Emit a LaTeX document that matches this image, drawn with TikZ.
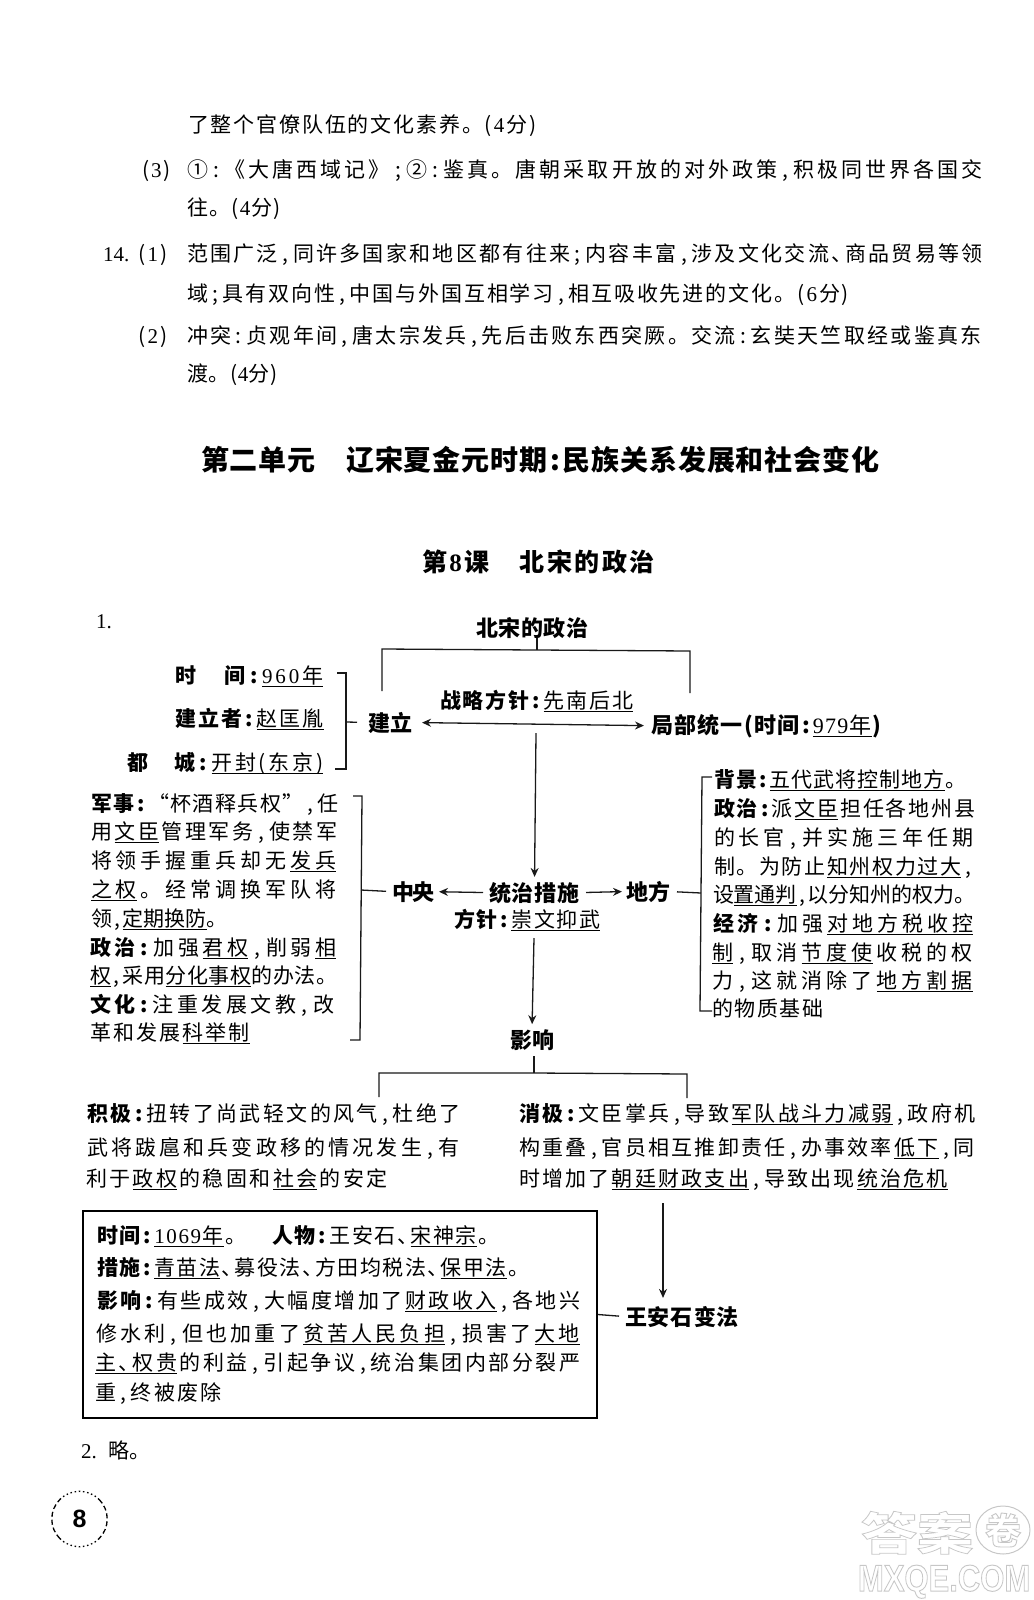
\documentclass[tikz,border=0pt]{standalone}
\usepackage{fontspec}
\usetikzlibrary{arrows.meta}
\setmainfont{Noto Sans CJK SC}
\newfontfamily\cjkf{Noto Sans CJK SC}
\newfontfamily\ser{Liberation Serif}
\newfontfamily\wmlat{Liberation Sans}
\newdimen\cjkX
\newdimen\cjkY
\newbox\jlA
\newbox\jlB
\newbox\ubx
\def\spcEnd{\spcEnd}
\def\hbA#1{\hbox to .5em{\hss#1\hss}\kern\cjkX}
\def\hbB#1{\hbox to .55em{#1\hss}\kern\cjkX}
\def\spcB#1{\ifx#1\ser\ser\else\ifx#1\cjkf\cjkf\else\ifx#1,\hbA{,}\else\ifx#1;\hbA{;}\else\ifx#1:\hbA{:}\else\ifx#1、\hbB{、}\else#1\kern\cjkX\fi\fi\fi\fi\fi\fi}
\def\spcA#1{\ifx#1\spcEnd\else\spcB{#1}\expandafter\spcA\fi}
\def\tn#1{{\spcA#1\spcEnd}}
\def\bd#1{{\bfseries\spcA#1\spcEnd}}
\def\ul#1{{\setbox\ubx\hbox{\spcA#1\spcEnd}\rlap{\smash{\lower4.2pt\hbox{\vrule width\dimexpr\wd\ubx-\cjkX\relax height1.1pt depth0pt}}}\box\ubx}}
\def\jl#1#2{\setbox\jlA\hbox{\cjkX=0pt #2}\setbox\jlB\hbox{\cjkX=1pt #2}\cjkY=\dimexpr\dimexpr#1-\wd\jlA\relax*65536/\numexpr\wd\jlB-\wd\jlA\relax\relax\hbox{\cjkX=\cjkY #2}}
\newcommand\LN[5]{\node[txt] (#1) at (#2,#3) {\jl{\dimexpr #4pt-#2pt\relax}{#5}};}
\tikzset{
 txt/.style={anchor=base west,inner sep=0pt,outer sep=0pt,text=black,font=\fontsize{21}{21}\selectfont},
 lab/.style={txt,font=\fontsize{22}{22}\selectfont},
 conn/.style={line width=1.3pt,draw=black!90},
 arr/.style={conn,-{Stealth[length=9pt,width=8pt,inset=3pt]}},
 darr/.style={conn,{Stealth[length=9pt,width=8pt,inset=3pt]}-{Stealth[length=9pt,width=8pt,inset=3pt]}},
 framebox/.style={draw=black,line width=1.5pt,inner sep=0pt,minimum width=514pt,minimum height=207pt},
 wmline/.style={draw=black!22,line width=1pt}
}
\begin{document}
\begin{tikzpicture}[x=1pt,y=-1pt]
\useasboundingbox (0,0) rectangle (1033,1600);
% upper text
\LN{a1}{188}{132}{538}{\tn{了整个官僚队伍的文化素养。(\ser 4\cjkf 分)}}
\LN{a2n}{142}{177}{173}{\tn{(\ser 3\cjkf )}}
\LN{a2}{187}{177}{986}{\tn{①:《大唐西域记》;②:鉴真。唐朝采取开放的对外政策,积极同世界各国交}}
\LN{a3}{187}{215}{282}{\tn{往。(\ser 4\cjkf 分)}}
\node[txt] (a4m) at (103,261) {\ser 14.};
\LN{a4n}{138}{261}{170}{\tn{(\ser 1\cjkf )}}
\LN{a4}{187}{261}{985}{\tn{范围广泛,同许多国家和地区都有往来;内容丰富,涉及文化交流、商品贸易等领}}
\LN{a5}{187}{301}{851}{\tn{域;具有双向性,中国与外国互相学习,相互吸收先进的文化。(\ser 6\cjkf 分)}}
\LN{a6n}{138}{343}{170}{\tn{(\ser 2\cjkf )}}
\LN{a6}{187}{343}{984}{\tn{冲突:贞观年间,唐太宗发兵,先后击败东西突厥。交流:玄奘天竺取经或鉴真东}}
\LN{a7}{187}{381}{278}{\tn{渡。(\ser 4\cjkf 分)}}
% headings
\node[txt,font=\fontsize{28}{28}\selectfont] (h1) at (201,470) {\jl{\dimexpr 679pt\relax}{\bd{第二单元}\hskip 30pt\bd{辽宋夏金元时期:民族关系发展和社会变化}}};
\node[txt,font=\fontsize{25}{25}\selectfont] (h2) at (422,571) {\jl{\dimexpr 235pt\relax}{\bd{第\ser 8\cjkf 课}\hskip 28pt\bd{北宋的政治}}};
\node[txt] (n1) at (96,628) {\ser 1.};
% diagram labels
\node[lab] (bsz) at (476,636) {\jl{\dimexpr 113pt\relax}{\bd{北宋的政治}}};
\node[lab] (jianli) at (368,731) {\jl{\dimexpr 44pt\relax}{\bd{建立}}};
\node[lab] (jubu) at (651,733) {\jl{\dimexpr 232pt\relax}{\bd{局部统一(时间:}\ul{\ser 979\cjkf 年}\bd{)}}};
\node[lab] (tongzhi) at (489,901) {\jl{\dimexpr 91pt\relax}{\bd{统治措施}}};
\node[lab] (zhongyang) at (392,900) {\jl{\dimexpr 41pt\relax}{\bd{中央}}};
\node[lab] (difang) at (626,900) {\jl{\dimexpr 44pt\relax}{\bd{地方}}};
\node[lab] (yx) at (510,1048) {\jl{\dimexpr 44pt\relax}{\bd{影响}}};
\node[lab] (wang) at (625,1325) {\jl{\dimexpr 115pt\relax}{\bd{王安石变法}}};
\LN{zl}{440}{708}{635}{\bd{战略方针:}\ul{先南后北}}
\LN{fz}{454}{927}{602}{\bd{方针:}\ul{崇文抑武}}
% founding block
\LN{b1}{175}{683}{326}{\bd{时}\hskip 26pt\bd{间:}\ul{\ser 960\cjkf 年}}
\LN{b2}{175}{726}{326}{\bd{建立者:}\ul{赵匡胤}}
\LN{b3}{127}{770}{326}{\bd{都}\hskip 24pt\bd{城:}\ul{开封(东京)}}
% central block
\LN{c1}{91}{811}{340}{\bd{军事:}\tn{“杯酒释兵权”,任}}
\LN{c2}{91}{839}{340}{\tn{用}\ul{文臣}\tn{管理军务,使禁军}}
\LN{c3}{91}{868}{340}{\tn{将领手握重兵却无}\ul{发兵}}
\LN{c4}{91}{897}{340}{\ul{之权}\tn{。经常调换军队将}}
\LN{c5}{91}{926}{228}{\tn{领,}\ul{定期换防}\tn{。}}
\LN{c6}{90}{955}{340}{\bd{政治:}\tn{加强}\ul{君权}\tn{,削弱}\ul{相}}
\LN{c7}{90}{983}{338}{\ul{权}\tn{,采用}\ul{分化事权}\tn{的办法。}}
\LN{c8}{90}{1012}{338}{\bd{文化:}\tn{注重发展文教,改}}
\LN{c9}{90}{1040}{252}{\tn{革和发展}\ul{科举制}}
% local block
\LN{d1}{714}{787}{968}{\bd{背景:}\ul{五代武将控制地方}\tn{。}}
\LN{d2}{714}{816}{977}{\bd{政治:}\tn{派}\ul{文臣}\tn{担任各地州县}}
\LN{d3}{714}{845}{977}{\tn{的长官,并实施三年任期}}
\LN{d4}{714}{874}{975}{\tn{制。为防止}\ul{知州权力过大}\tn{,}}
\LN{d5}{713}{902}{975}{\tn{设}\ul{置通判}\tn{,以分知州的权力。}}
\LN{d6}{713}{931}{977}{\bd{经济:}\tn{加强}\ul{对地方税收控}}
\LN{d7}{712}{960}{977}{\ul{制}\tn{,取消}\ul{节度使}\tn{收税的权}}
\LN{d8}{712}{988}{977}{\tn{力,这就消除了}\ul{地方割据}}
\LN{d9}{712}{1016}{825}{\tn{的物质基础}}
% effects
\LN{e1}{87}{1121}{463}{\bd{积极:}\tn{扭转了尚武轻文的风气,杜绝了}}
\LN{e2}{87}{1155}{463}{\tn{武将跋扈和兵变政移的情况发生,有}}
\LN{e3}{86}{1186}{390}{\tn{利于}\ul{政权}\tn{的稳固和}\ul{社会}\tn{的安定}}
\LN{f1}{519}{1121}{978}{\bd{消极:}\tn{文臣掌兵,导致}\ul{军队战斗力减弱}\tn{,政府机}}
\LN{f2}{519}{1155}{977}{\tn{构重叠,官员相互推卸责任,办事效率}\ul{低下}\tn{,同}}
\LN{f3}{519}{1186}{950}{\tn{时增加了}\ul{朝廷财政支出}\tn{,导致出现}\ul{统治危机}}
% reform box
\node[framebox] (box) at (340,1314.5) {};
\LN{g1}{97}{1243}{501}{\bd{时间:}\ul{\ser 1069\cjkf 年}\tn{。}\hskip 24pt\bd{人物:}\tn{王安石、}\ul{宋神宗}\tn{。}}
\LN{g2}{97}{1275}{531}{\bd{措施:}\ul{青苗法}\tn{、募役法、方田均税法、}\ul{保甲法}\tn{。}}
\LN{g3}{97}{1308}{583}{\bd{影响:}\tn{有些成效,大幅度增加了}\ul{财政收入}\tn{,各地兴}}
\LN{g4}{96}{1341}{583}{\tn{修水利,但也加重了}\ul{贫苦人民负担}\tn{,损害了}\ul{大地}}
\LN{g5}{95}{1370}{583}{\ul{主、权贵}\tn{的利益,引起争议,统治集团内部分裂严}}
\LN{g6}{95}{1400}{224}{\tn{重,终被废除}}
\node[txt] (z2) at (81,1458) {{\ser 2.}\hskip 12pt 略。};
% named points
\coordinate (t0) at (537,650);
\coordinate (tl) at (382,649);
\coordinate (tlb) at (382,691);
\coordinate (tr) at (690,651);
\coordinate (trb) at (690,693);
\coordinate (rs1) at (346,722);
\coordinate (r1a) at (337,673);
\coordinate (r1b) at (346,673);
\coordinate (r1c) at (346,769);
\coordinate (r1d) at (335,769);
\coordinate (l1a) at (353,796);
\coordinate (l1b) at (362,796);
\coordinate (l1c) at (360,1040);
\coordinate (l1d) at (350,1040);
\coordinate (l1s) at (361,890);
\coordinate (r2a) at (712,777);
\coordinate (r2b) at (702,777);
\coordinate (r2c) at (700,1011);
\coordinate (r2d) at (712,1011);
\coordinate (r2s) at (701,893);
\coordinate (down1) at (536,733);
\coordinate (down2) at (534,938);
\coordinate (t2) at (534,1073);
\coordinate (t2l) at (379,1073);
\coordinate (t2lb) at (379,1097);
\coordinate (t2r) at (687,1074);
\coordinate (t2rb) at (687,1098);
\coordinate (wa) at (663,1203);
% connectors
\draw[conn] (bsz.south -| t0) -- (t0);
\draw[conn] (tlb) -- (tl) -- (t0) -- (tr) -- (trb);
\draw[conn] (r1a) -- (r1b) -- (r1c) -- (r1d);
\draw[conn,shorten >=11pt] (rs1) -- (jianli.west);
\draw[darr,shorten <=10pt,shorten >=7pt] (jianli.east) -- (jubu.west);
\draw[arr,shorten >=5pt] (down1) -- (tongzhi.north);
\draw[arr,shorten <=6pt,shorten >=6pt] (tongzhi.west) -- (zhongyang.east);
\draw[arr,shorten <=6pt,shorten >=4pt] (tongzhi.east) -- (difang.west);
\draw[conn] (l1a) -- (l1b) -- (l1c) -- (l1d);
\draw[conn,shorten >=6pt] (l1s) -- (zhongyang.west);
\draw[conn] (r2a) -- (r2b) -- (r2c) -- (r2d);
\draw[conn,shorten >=7pt] (r2s) -- (difang.east);
\draw[arr,shorten >=5pt] (down2) -- (yx.north);
\draw[conn,shorten <=6pt] (yx.south -| t2) -- (t2);
\draw[conn] (t2lb) -- (t2l) -- (t2) -- (t2r) -- (t2rb);
\draw[arr,shorten >=8pt] (wa) -- (wa |- wang.north);
\draw[conn,shorten >=6pt] (box.east) -- (wang.west);
% page number
\node[txt,anchor=center,font=\fontsize{25}{25}\selectfont\bfseries,inner sep=0pt] (pg) at (79.5,1519) {\wmlat 8};
\draw[line width=1.3pt,dash pattern=on 1.5pt off 2.7pt] (pg.center) ++(19.6,19.6) arc[start angle=45,end angle=135,radius=27.7];
\draw[line width=1.3pt,dash pattern=on 5pt off 3pt] (pg.center) ++(-19.6,19.6) arc[start angle=135,end angle=225,radius=27.7];
\draw[line width=1.3pt,dash pattern=on 1.5pt off 2.7pt] (pg.center) ++(-19.6,-19.6) arc[start angle=225,end angle=315,radius=27.7];
\draw[line width=1.3pt,dash pattern=on 5pt off 3pt] (pg.center) ++(19.6,-19.6) arc[start angle=315,end angle=405,radius=27.7];
% watermark
\node[txt,anchor=base west,font=\fontsize{56}{56}\selectfont\bfseries,yscale=.8,transform shape] (wm1) at (861,1550) {\special{pdf:code q 1 Tr 0.9 w 0.78 G}答案\special{pdf:code Q}};
\node[txt,anchor=center,font=\fontsize{36}{36}\selectfont\bfseries] (wm2) at (1003,1530) {\special{pdf:code q 1 Tr 0.9 w 0.78 G}卷\special{pdf:code Q}};
\draw[wmline] (wm2.center) ellipse[x radius=27,y radius=24];
\node[txt,anchor=base west,font=\fontsize{31}{31}\selectfont\bfseries,yscale=1.2,transform shape] (wm3) at (858,1591) {\special{pdf:code q 1 Tr 0.8 w 0.78 G}\wmlat MXQE.COM\special{pdf:code Q}};
\end{tikzpicture}
\end{document}
